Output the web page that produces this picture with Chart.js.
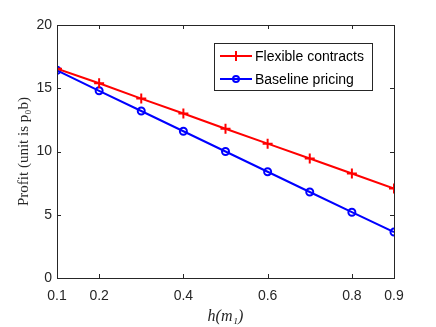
<!DOCTYPE html>
<html><head><meta charset="utf-8">
<script src="https://cdn.jsdelivr.net/npm/chart.js@4"></script>
<style>html,body{margin:0;padding:0;background:#fff}#wrap{width:436px;height:327px}</style>
</head><body><div id="wrap"><canvas id="c" width="436" height="327"></canvas></div>
<script>
const hValues = [0.1, 0.2, 0.3, 0.4, 0.5, 0.6, 0.7, 0.8, 0.9];
const flexibleContracts = [16.55, 15.4, 14.18, 13.0, 11.8, 10.62, 9.45, 8.26, 7.08];
const baselinePricing = [16.42, 14.8, 13.2, 11.6, 10.0, 8.4, 6.8, 5.2, 3.63];
const xTickValues = [0.1, 0.2, 0.4, 0.6, 0.8, 0.9];
const yTickValues = [0, 5, 10, 15, 20];
const seriesNames = ['Flexible contracts', 'Baseline pricing'];

const axisColor = '#262626';

const boxPlugin = {
  id: 'boxPlugin',
  afterDraw(chart) {
    const ctx = chart.ctx, a = chart.chartArea;
    const xs = chart.scales.x, ys = chart.scales.y;
    ctx.save();
    ctx.strokeStyle = axisColor; ctx.lineWidth = 1;
    ctx.strokeRect(Math.round(a.left) + 0.5, Math.round(a.top) + 0.5, Math.round(a.right - a.left), Math.round(a.bottom - a.top));
    ctx.beginPath();
    const tl = 4;
    xTickValues.forEach(v => {
      const x = Math.round(xs.getPixelForValue(v)) + 0.5;
      ctx.moveTo(x, a.bottom); ctx.lineTo(x, a.bottom - tl);
      ctx.moveTo(x, a.top); ctx.lineTo(x, a.top + tl);
    });
    yTickValues.forEach(v => {
      const y = Math.round(ys.getPixelForValue(v)) + 0.5;
      ctx.moveTo(a.left, y); ctx.lineTo(a.left + tl, y);
      ctx.moveTo(a.right, y); ctx.lineTo(a.right - tl, y);
    });
    ctx.stroke();
    // legend
    const lx = 214, ly = 43, lw = 158, lh = 47;
    ctx.fillStyle = '#fff';
    ctx.fillRect(lx, ly, lw, lh);
    ctx.strokeStyle = axisColor;
    ctx.strokeRect(lx + 0.5, ly + 0.5, lw, lh);
    ctx.font = '14px "Liberation Sans", Arial, sans-serif';
    ctx.textBaseline = 'middle';
    ctx.textAlign = 'left';
    chart.data.datasets.forEach((ds, i) => {
      const cy = ly + 13 + i * 23;
      ctx.strokeStyle = ds.borderColor; ctx.lineWidth = 2;
      ctx.beginPath(); ctx.moveTo(lx + 6, cy); ctx.lineTo(lx + 38, cy); ctx.stroke();
      const mx = lx + 22;
      if (ds.pointStyle === 'cross') {
        ctx.beginPath(); ctx.moveTo(mx - 5, cy); ctx.lineTo(mx + 5, cy); ctx.moveTo(mx, cy - 5); ctx.lineTo(mx, cy + 5); ctx.stroke();
      } else {
        ctx.beginPath(); ctx.arc(mx, cy, 3, 0, Math.PI * 2); ctx.stroke();
      }
      ctx.fillStyle = '#000';
      ctx.fillText(ds.label, lx + 41, cy + 1);
    });
    ctx.restore();
  }
};

new Chart(document.getElementById('c'), {
  type: 'line',
  data: {
    datasets: [
      { label: seriesNames[0], data: hValues.map((x, i) => ({x, y: flexibleContracts[i]})),
        borderColor: '#ff0000', backgroundColor: '#ff0000', borderWidth: 2,
        pointStyle: 'cross', pointRadius: 5, pointBorderWidth: 2, pointBorderColor: '#ff0000' },
      { label: seriesNames[1], data: hValues.map((x, i) => ({x, y: baselinePricing[i]})),
        borderColor: '#0000ff', backgroundColor: 'rgba(0,0,0,0)', borderWidth: 2,
        pointStyle: 'circle', pointRadius: 3.5, pointBorderWidth: 2, pointBorderColor: '#0000ff' }
    ]
  },
  options: {
    responsive: false, animation: false,
    layout: { padding: { left: 0, top: 25, right: 42, bottom: 0 } },
    plugins: { legend: { display: false }, tooltip: { enabled: false } },
    elements: { line: { tension: 0 } },
    scales: {
      x: {
        type: 'linear', min: 0.1, max: 0.9,
        afterBuildTicks: s => { s.ticks = xTickValues.map(v => ({ value: v })); },
        afterFit: s => { s.height = 49; },
        grid: { display: false, drawTicks: false },
        border: { display: false },
        ticks: { padding: 10, color: axisColor, font: { family: '"Liberation Sans", Arial, sans-serif', size: 14 }, maxRotation: 0, callback: v => String(v) },
        title: { display: true, text: 'h(m₁)', color: axisColor, font: { family: '"Liberation Serif", serif', size: 16, style: 'italic' }, padding: { top: 0, bottom: 1 } }
      },
      y: {
        type: 'linear', min: 0, max: 20,
        afterBuildTicks: s => { s.ticks = yTickValues.map(v => ({ value: v })); },
        afterFit: s => { s.width = 57; },
        grid: { display: false, drawTicks: false },
        border: { display: false },
        ticks: { padding: 5, color: axisColor, font: { family: '"Liberation Sans", Arial, sans-serif', size: 14 } },
        title: { display: true, text: 'Profit (unit is p₀b)', color: axisColor, font: { family: '"Liberation Serif", serif', size: 15 }, padding: { top: 15, bottom: 0 } }
      }
    }
  },
  plugins: [boxPlugin]
});
</script></body></html>
